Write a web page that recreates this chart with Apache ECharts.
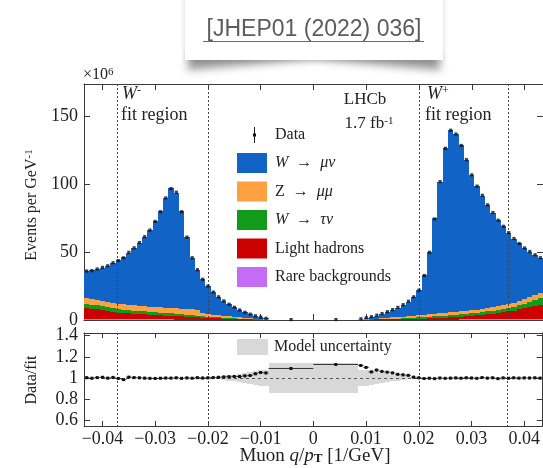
<!DOCTYPE html>
<html>
<head>
<meta charset="utf-8">
<script src="https://cdn.jsdelivr.net/npm/echarts@6/dist/echarts.min.js"></script>
<style>
  html, body { margin: 0; padding: 0; background: #fff; }
  #chart { width: 543px; height: 468px; }
</style>
</head>
<body>
<div id="chart"></div>
<script>
// Bin edges in muon q/pT [1/GeV]; two wide bins straddle zero
const binEdges = [
  -0.0435, -0.0425, -0.0415, -0.0405, -0.0395, -0.0385, -0.0375, -0.0365, -0.0355, -0.0345,
  -0.0335, -0.0325, -0.0315, -0.0305, -0.0295, -0.0285, -0.0275, -0.0265, -0.0255, -0.0245,
  -0.0235, -0.0225, -0.0215, -0.0205, -0.0195, -0.0185, -0.0175, -0.0165, -0.0155, -0.0145,
  -0.0135, -0.0125, -0.0115, -0.0105, -0.0095, -0.0085,
  0,
  0.0085, 0.0095, 0.0105, 0.0115, 0.0125, 0.0135, 0.0145, 0.0155, 0.0165, 0.0175,
  0.0185, 0.0195, 0.0205, 0.0215, 0.0225, 0.0235, 0.0245, 0.0255, 0.0265, 0.0275,
  0.0285, 0.0295, 0.0305, 0.0315, 0.0325, 0.0335, 0.0345, 0.0355, 0.0365, 0.0375,
  0.0385, 0.0395, 0.0405, 0.0415, 0.0425, 0.0435
];

// Fit components, events per GeV^-1 (x10^6)
const rareBkg = [
  0.8, 0.8, 0.7, 0.7, 0.7, 0.6, 0.6, 0.6, 0.5, 0.5,
  0.5, 0.5, 0.4, 0.4, 0.4, 0.4, 0.4, 0.3, 0.3, 0.3,
  0.3, 0.3, 0.2, 0.2, 0.2, 0.2, 0.1, 0.1, 0.1, 0.1,
  0.1, 0.1, 0.0, 0.0, 0.0,
  0.0, 0.0,
  0.0, 0.0, 0.0, 0.1, 0.1, 0.1, 0.1, 0.1, 0.1, 0.1,
  0.2, 0.2, 0.2, 0.2, 0.3, 0.3, 0.3, 0.3, 0.3, 0.4,
  0.4, 0.4, 0.4, 0.5, 0.5, 0.5, 0.5, 0.6, 0.6, 0.6,
  0.7, 0.7, 0.7, 0.8, 0.8
];
const lightHadrons = [
  8.0, 7.6, 7.1, 6.6, 6.0, 5.3, 4.8, 4.5, 4.3, 4.1,
  3.9, 3.7, 3.5, 3.3, 3.1, 2.9, 2.7, 2.5, 2.3, 2.1,
  1.9, 1.7, 1.5, 1.3, 1.2, 1.0, 0.9, 0.8, 0.7, 0.6,
  0.5, 0.4, 0.3, 0.3, 0.2,
  0.05, 0.05,
  0.1, 0.2, 0.2, 0.3, 0.3, 0.4, 0.4, 0.5, 0.5, 0.6,
  0.7, 0.8, 0.9, 1.0, 1.1, 1.3, 1.5, 1.7, 1.9, 2.1,
  2.4, 2.7, 3.0, 3.3, 3.7, 4.1, 4.6, 5.1, 5.8, 6.4,
  7.1, 7.8, 8.6, 9.5, 10.5
];
const wTauNu = [
  3.0, 2.9, 2.9, 2.8, 2.7, 2.6, 2.5, 2.5, 2.4, 2.4,
  2.3, 2.3, 2.2, 2.1, 2.0, 1.9, 1.8, 1.7, 1.6, 1.5,
  1.4, 1.3, 1.1, 1.0, 0.9, 0.8, 0.7, 0.6, 0.5, 0.4,
  0.3, 0.3, 0.2, 0.2, 0.1,
  0.02, 0.02,
  0.1, 0.1, 0.2, 0.2, 0.3, 0.3, 0.4, 0.5, 0.6, 0.7,
  0.8, 1.0, 1.1, 1.2, 1.3, 1.4, 1.5, 1.6, 1.7, 1.8,
  1.9, 2.0, 2.0, 2.1, 2.2, 2.3, 2.4, 2.5, 2.6, 2.8,
  3.0, 3.3, 3.7, 4.2, 4.7
];
const zMuMu = [
  4.5, 4.4, 4.3, 4.2, 4.1, 4.0, 3.9, 3.9, 3.8, 3.8,
  3.8, 3.8, 3.8, 3.8, 3.8, 3.9, 3.9, 4.0, 4.0, 4.1,
  4.2, 4.2, 2.4, 1.8, 1.6, 1.5, 1.4, 1.2, 1.1, 0.9,
  0.8, 0.6, 0.5, 0.4, 0.3,
  0.05, 0.05,
  0.2, 0.3, 0.4, 0.5, 0.6, 0.8, 1.0, 1.1, 1.3, 1.4,
  1.6, 1.7, 1.8, 1.9, 2.0, 2.0, 2.0, 2.1, 2.1, 2.2,
  2.2, 2.3, 2.3, 2.4, 2.5, 2.6, 2.7, 2.8, 2.9, 3.1,
  3.3, 3.5, 3.7, 3.9, 4.0
];
const wMuNu = [
  19.7, 20.8, 22.5, 24.2, 26.5, 29.5, 32.2, 35.0, 38.5, 42.2,
  46.5, 51.2, 56.6, 63.4, 70.7, 80.9, 88.2, 85.5, 71.8, 53.0,
  38.2, 29.5, 24.8, 20.7, 16.6, 13.5, 10.9, 8.8, 6.9, 5.3,
  3.9, 2.8, 2.0, 1.1, 0.6,
  0.18, 0.18,
  0.4, 0.9, 1.5, 2.2, 3.2, 4.2, 5.4, 6.8, 8.5, 10.7,
  13.7, 18.3, 29.0, 45.7, 70.3, 97.0, 121.7, 134.3, 131.0, 122.5,
  111.1, 99.6, 91.3, 83.2, 76.1, 69.5, 63.8, 58.0, 52.6, 47.1,
  42.4, 37.7, 33.8, 29.6, 26.0
];

// Measured yields per bin
const dataCounts = [
  36.1, 36.4, 37.6, 38.8, 40.0, 42.2, 43.8, 45.8, 49.9, 53.2,
  57.1, 61.4, 66.3, 72.7, 79.8, 90.0, 96.9, 94.2, 79.8, 61.1,
  45.9, 37.1, 30.0, 25.1, 20.6, 17.1, 14.1, 11.6, 9.4, 7.4,
  5.7, 4.3, 3.1, 2.1, 1.26,
  0.33, 0.34,
  0.89, 1.65, 2.43, 3.55, 4.78, 6.12, 7.65, 9.3, 11.3, 13.8,
  17.1, 22.0, 32.8, 49.9, 74.5, 102.0, 126.6, 139.9, 137.1, 128.7,
  118.2, 107.0, 98.7, 91.9, 84.9, 79.2, 73.6, 69.1, 64.4, 60.1,
  56.4, 53.1, 50.5, 48.1, 45.9
];

// Data / fit ratio per bin
const ratioValues = [
  1.003, 0.998, 1.004, 1.007, 0.999, 1.006, 0.996, 0.985, 1.008, 1.004,
  1.002, 0.999, 0.997, 0.996, 0.998, 1.000, 0.999, 1.002, 0.997, 1.001,
  0.998, 1.003, 1.000, 1.002, 1.004, 1.007, 1.010, 1.012, 1.015, 1.014,
  1.020, 1.024, 1.040, 1.052, 1.048,
  1.090, 1.128,
  1.118, 1.100, 1.058, 1.075, 1.062, 1.055, 1.048, 1.035, 1.030, 1.025,
  1.008, 1.002, 0.995, 0.998, 0.994, 1.000, 0.997, 0.999, 1.001, 0.998,
  1.002, 1.000, 0.997, 1.004, 0.999, 1.002, 0.994, 1.001, 0.998, 1.002,
  0.999, 1.001, 1.000, 1.002, 0.999
];

// Half-width of the model uncertainty band around 1
const modelUnc = [
  0, 0, 0, 0, 0, 0, 0, 0, 0, 0,
  0, 0, 0, 0, 0, 0, 0, 0, 0, 0,
  0, 0, 0, 0, 0, 0.008, 0.016, 0.024, 0.032, 0.040,
  0.048, 0.056, 0.064, 0.072, 0.080,
  0.145, 0.145,
  0.080, 0.072, 0.064, 0.056, 0.048, 0.040, 0.032, 0.024, 0.016, 0.008,
  0, 0, 0, 0, 0, 0, 0, 0, 0, 0,
  0, 0, 0, 0, 0, 0, 0, 0, 0, 0,
  0, 0, 0, 0, 0
];

// Fit-region boundaries and axis tick values
const fitBoundaries = [-0.0372, -0.02, 0.02, 0.0368];
const xTicks = [-0.04, -0.03, -0.02, -0.01, 0, 0.01, 0.02, 0.03, 0.04];
const yTicksMain = [0, 50, 100, 150];
const yTicksRatio = [0.6, 0.8, 1, 1.2, 1.4];

const SERIF = '"Liberation Serif", "DejaVu Serif", serif';
const INK = '#222';
const FRAME = '#3a3a3a';

const N = wMuNu.length;
const binLo = binEdges.slice(0, -1);
const binHi = binEdges.slice(1);
const binMid = binLo.map((lo, i) => (lo + binHi[i]) / 2);

function rectRenderer(color) {
  return function (params, api) {
    const a = api.coord([api.value(0), api.value(2)]);
    const b = api.coord([api.value(1), api.value(3)]);
    const x0 = Math.round(a[0]), x1 = Math.round(b[0]);
    const yT = Math.round(b[1]), yB = Math.round(a[1]);
    if (yB - yT <= 0) return null;
    return { type: 'rect', shape: { x: x0, y: yT, width: x1 - x0, height: yB - yT }, style: { fill: color } };
  };
}

const layers = [
  { name: 'Rare backgrounds', values: rareBkg, color: '#c56cf6' },
  { name: 'Light hadrons', values: lightHadrons, color: '#cc0202' },
  { name: 'W → τν', values: wTauNu, color: '#129a1b' },
  { name: 'Z → μμ', values: zMuMu, color: '#ffa13e' },
  { name: 'W → μν', values: wMuNu, color: '#1163c6' }
];
const cumulative = new Array(N).fill(0);
const stackSeries = layers.map(layer => {
  const data = layer.values.map((v, i) => {
    const lo = cumulative[i];
    cumulative[i] = lo + v;
    return [binLo[i], binHi[i], lo, cumulative[i]];
  });
  return {
    type: 'custom', name: layer.name, xAxisIndex: 0, yAxisIndex: 0, clip: true, z: 2,
    encode: { x: [0, 1], y: [2, 3] }, renderItem: rectRenderer(layer.color), data: data, silent: true
  };
});

function vLines(gridIdx) {
  return {
    type: 'custom', xAxisIndex: gridIdx * 2, yAxisIndex: gridIdx * 2, z: 5, silent: true,
    data: fitBoundaries.map(x => [x, 1]),
    encode: { x: 0, y: 1 },
    renderItem: function (params, api) {
      const cs = params.coordSys;
      const px = Math.round(api.coord([api.value(0), api.value(1)])[0]) + 0.5;
      return { type: 'line', shape: { x1: px, y1: cs.y, x2: px, y2: cs.y + cs.height },
        style: { stroke: '#444', lineWidth: 1, lineDash: [2, 2] } };
    }
  };
}

const bandSeries = {
  type: 'custom', xAxisIndex: 2, yAxisIndex: 2, z: 2, clip: true, silent: true,
  data: modelUnc.map((u, i) => [binLo[i], binHi[i], 1 - u, 1 + u]),
  encode: { x: [0, 1], y: [2, 3] },
  renderItem: rectRenderer('#d8d8d8')
};

const unityLine = {
  type: 'custom', xAxisIndex: 2, yAxisIndex: 2, z: 4, silent: true,
  data: [[0, 1]], encode: { x: 0, y: 1 },
  renderItem: function (params, api) {
    const cs = params.coordSys;
    const py = Math.round(api.coord([api.value(0), api.value(1)])[1]) + 0.5;
    return { type: 'line', shape: { x1: cs.x, y1: py, x2: cs.x + cs.width, y2: py },
      style: { stroke: '#555', lineWidth: 1, lineDash: [3, 3] } };
  }
};

const ratioSeries = {
  type: 'custom', xAxisIndex: 2, yAxisIndex: 2, z: 6, clip: true, silent: true,
  data: ratioValues.map((r, i) => [binLo[i], binHi[i], binMid[i], r]),
  encode: { x: [0, 1], y: 3 },
  renderItem: function (params, api) {
    const a = api.coord([api.value(0), api.value(3)]);
    const b = api.coord([api.value(1), api.value(3)]);
    const c = api.coord([api.value(2), api.value(3)]);
    const up = api.coord([api.value(2), api.value(3) + 0.012]);
    const dn = api.coord([api.value(2), api.value(3) - 0.012]);
    return { type: 'group', children: [
      { type: 'line', shape: { x1: a[0], y1: c[1], x2: b[0], y2: c[1] }, style: { stroke: '#333', lineWidth: 1 } },
      { type: 'line', shape: { x1: c[0], y1: up[1], x2: c[0], y2: dn[1] }, style: { stroke: '#333', lineWidth: 1 } },
      { type: 'rect', shape: { x: c[0] - 1.5, y: c[1] - 1.5, width: 3, height: 3 }, style: { fill: '#111' } }
    ] };
  }
};

const dataSeries = {
  type: 'scatter', xAxisIndex: 0, yAxisIndex: 0, z: 6, silent: true,
  symbol: 'rect', symbolSize: 3.2, itemStyle: { color: '#111' },
  data: dataCounts.map((v, i) => [binMid[i], v])
};

const fmtX = v => v === 0 ? '0' : (v < 0 ? '\u2212' : '') + Math.abs(v).toFixed(2);

function xAxisDef(grid, pos, withLabels) {
  return {
    type: 'value', gridIndex: grid, position: pos, min: -0.0435, max: 0.0435,
    axisLine: { show: true, onZero: false, lineStyle: { color: FRAME, width: 1 } },
    axisTick: { show: true, inside: true, length: grid === 0 ? 6 : 5, customValues: xTicks, lineStyle: { color: FRAME } },
    axisLabel: withLabels ? { show: true, customValues: xTicks, formatter: fmtX, fontFamily: SERIF, fontSize: 18, color: INK, margin: 4 } : { show: false },
    splitLine: { show: false }
  };
}
function yAxisDef(grid, pos, min, max, ticks, withLabels, fmt) {
  return {
    type: 'value', gridIndex: grid, position: pos, min: min, max: max,
    axisLine: { show: true, onZero: false, lineStyle: { color: FRAME, width: 1 } },
    axisTick: { show: true, inside: true, length: 6, customValues: ticks, lineStyle: { color: FRAME } },
    axisLabel: withLabels ? { show: true, customValues: ticks, formatter: fmt, fontFamily: SERIF, fontSize: 18, color: INK, margin: 6 } : { show: false },
    splitLine: { show: false }
  };
}

// Legend entries for the stacked components
const legendRows = [
  { text: '{i|W}{n|  →  }{i|μν}', color: '#1163c6' },
  { text: '{n|Z  →  }{i|μμ}', color: '#ffa13e' },
  { text: '{i|W}{n|  →  }{i|τν}', color: '#129a1b' },
  { text: '{n|Light hadrons}', color: '#cc0202' },
  { text: '{n|Rare backgrounds}', color: '#c56cf6' }
];
const legendRich = {
  n: { fontFamily: SERIF, fontSize: 16, fill: INK, color: INK },
  i: { fontFamily: SERIF, fontSize: 16, fontStyle: 'italic', fill: INK, color: INK }
};

function txt(x, y, text, opts) {
  return {
    type: 'text', x: x, y: y, z: 100,
    style: Object.assign({ text: text, fill: INK, font: '16px ' + SERIF, align: 'left', verticalAlign: 'middle',
      textAlign: 'left', textVerticalAlign: 'middle' }, opts || {})
  };
}

const graphics = [];
// curled drop shadow under the citation card: only the blurred shadow of an off-canvas shape is visible
graphics.push({ type: 'polygon', z: 199,
  shape: { points: [[190 - 1000, 54], [438 - 1000, 54], [441 - 1000, 70], [314 - 1000, 59], [187 - 1000, 70]] },
  style: { fill: '#000', shadowBlur: 9, shadowOffsetX: 1000, shadowOffsetY: 0, shadowColor: 'rgba(0,0,0,0.42)' } });
// citation card
graphics.push({ type: 'rect', z: 200, shape: { x: 185, y: -20, width: 258, height: 80 },
  style: { fill: '#fff', shadowBlur: 5, shadowOffsetY: 0, shadowColor: 'rgba(0,0,0,0.18)' } });
graphics.push({ type: 'text', z: 201, x: 314, y: 30,
  style: { text: '[JHEP01 (2022) 036]', font: '23px "Liberation Sans", Arial, sans-serif', fill: '#5c5c5c',
    align: 'center', verticalAlign: 'middle', textAlign: 'center', textVerticalAlign: 'middle' } });
graphics.push({ type: 'line', z: 201, shape: { x1: 203, y1: 41.5, x2: 424, y2: 41.5 }, style: { stroke: '#6c6c6c', lineWidth: 1.2 } });

// axis titles and scale factor
graphics.push({ type: 'text', z: 100, x: 32, y: 205, rotation: Math.PI / 2,
  style: { text: '{n|Events per GeV}{s|-1}', align: 'center', verticalAlign: 'middle', textAlign: 'center', textVerticalAlign: 'middle',
    rich: { n: { fontFamily: SERIF, fontSize: 16, fill: INK, color: INK }, s: { fontFamily: SERIF, fontSize: 11, fill: INK, color: INK, verticalAlign: 'top' } } } });
graphics.push({ type: 'text', z: 100, x: 32, y: 380, rotation: Math.PI / 2,
  style: { text: 'Data/fit', font: '16px ' + SERIF, fill: INK, align: 'center', verticalAlign: 'middle', textAlign: 'center', textVerticalAlign: 'middle' } });
graphics.push({ type: 'text', z: 100, x: 315, y: 456,
  style: { text: '{n|Muon }{i|q}{n|/}{i|p}{b|T}{n| [1/GeV]}', align: 'center', verticalAlign: 'middle', textAlign: 'center', textVerticalAlign: 'middle',
    rich: { n: { fontFamily: SERIF, fontSize: 19, fill: INK, color: INK }, i: { fontFamily: SERIF, fontSize: 19, fontStyle: 'italic', fill: INK, color: INK },
      b: { fontFamily: SERIF, fontSize: 13, fontWeight: 'bold', fill: INK, color: INK, verticalAlign: 'bottom' } } } });
graphics.push({ type: 'text', z: 100, x: 83, y: 75,
  style: { text: '{n|×10}{s|6}', align: 'left', verticalAlign: 'middle', textAlign: 'left', textVerticalAlign: 'middle',
    rich: { n: { fontFamily: SERIF, fontSize: 16, fill: INK, color: INK }, s: { fontFamily: SERIF, fontSize: 11, fill: INK, color: INK, verticalAlign: 'top' } } } });

// fit region labels
const regionRich = { i: { fontFamily: SERIF, fontSize: 18, fontStyle: 'italic', fill: INK, color: INK }, s: { fontFamily: SERIF, fontSize: 12, fill: INK, color: INK, verticalAlign: 'top' } };
graphics.push({ type: 'text', z: 100, x: 122, y: 94, style: { text: '{i|W}{s|-}', rich: regionRich, align: 'left', verticalAlign: 'middle', textAlign: 'left', textVerticalAlign: 'middle' } });
graphics.push(txt(121, 115, 'fit region', { font: '18px ' + SERIF }));
graphics.push({ type: 'text', z: 100, x: 427, y: 94, style: { text: '{i|W}{s|+}', rich: regionRich, align: 'left', verticalAlign: 'middle', textAlign: 'left', textVerticalAlign: 'middle' } });
graphics.push(txt(425, 115, 'fit region', { font: '18px ' + SERIF }));

// experiment label
graphics.push({ type: 'text', z: 100, x: 365, y: 100, style: { text: 'LHCb', font: '17px ' + SERIF, fill: INK, align: 'center', verticalAlign: 'middle', textAlign: 'center', textVerticalAlign: 'middle' } });
graphics.push({ type: 'text', z: 100, x: 369, y: 124,
  style: { text: '{n|1.7 fb}{s|-1}', align: 'center', verticalAlign: 'middle', textAlign: 'center', textVerticalAlign: 'middle',
    rich: { n: { fontFamily: SERIF, fontSize: 17, fill: INK, color: INK }, s: { fontFamily: SERIF, fontSize: 11, fill: INK, color: INK, verticalAlign: 'top' } } } });

// legend: data marker
graphics.push({ type: 'line', z: 100, shape: { x1: 254.5, y1: 127, x2: 254.5, y2: 143 }, style: { stroke: '#222', lineWidth: 1 } });
graphics.push({ type: 'rect', z: 100, shape: { x: 253, y: 133.5, width: 3, height: 3 }, style: { fill: '#111' } });
graphics.push(txt(275, 135, 'Data'));
legendRows.forEach((row, k) => {
  const cy = 163 + k * 28.5;
  graphics.push({ type: 'rect', z: 100, shape: { x: 237, y: cy - 10, width: 30, height: 20 }, style: { fill: row.color } });
  graphics.push({ type: 'text', z: 100, x: 275, y: cy, style: { text: row.text, rich: legendRich, align: 'left', verticalAlign: 'middle', textAlign: 'left', textVerticalAlign: 'middle' } });
});

// legend for the ratio panel
graphics.push({ type: 'rect', z: 100, shape: { x: 237, y: 339, width: 31, height: 16 }, style: { fill: '#d8d8d8' } });
graphics.push(txt(274, 347, 'Model uncertainty'));

const chart = echarts.init(document.getElementById('chart'), null, { renderer: 'canvas' });
chart.setOption({
  animation: false,
  backgroundColor: '#fff',
  grid: [
    { left: 84, top: 84, width: 463, height: 236 },
    { left: 84, top: 333, width: 463, height: 93 }
  ],
  xAxis: [
    xAxisDef(0, 'bottom', false),
    xAxisDef(0, 'top', false),
    xAxisDef(1, 'bottom', true),
    xAxisDef(1, 'top', false)
  ],
  yAxis: [
    yAxisDef(0, 'left', 0, 174, yTicksMain, true, v => String(v)),
    yAxisDef(0, 'right', 0, 174, yTicksMain, false),
    yAxisDef(1, 'left', 0.547, 1.425, yTicksRatio, true, v => (v === 1 ? '1' : v.toFixed(1))),
    yAxisDef(1, 'right', 0.547, 1.425, yTicksRatio, false)
  ],
  series: stackSeries.concat([dataSeries, vLines(0), bandSeries, unityLine, vLines(1), ratioSeries]),
  graphic: { elements: graphics }
});
</script>
</body>
</html>
